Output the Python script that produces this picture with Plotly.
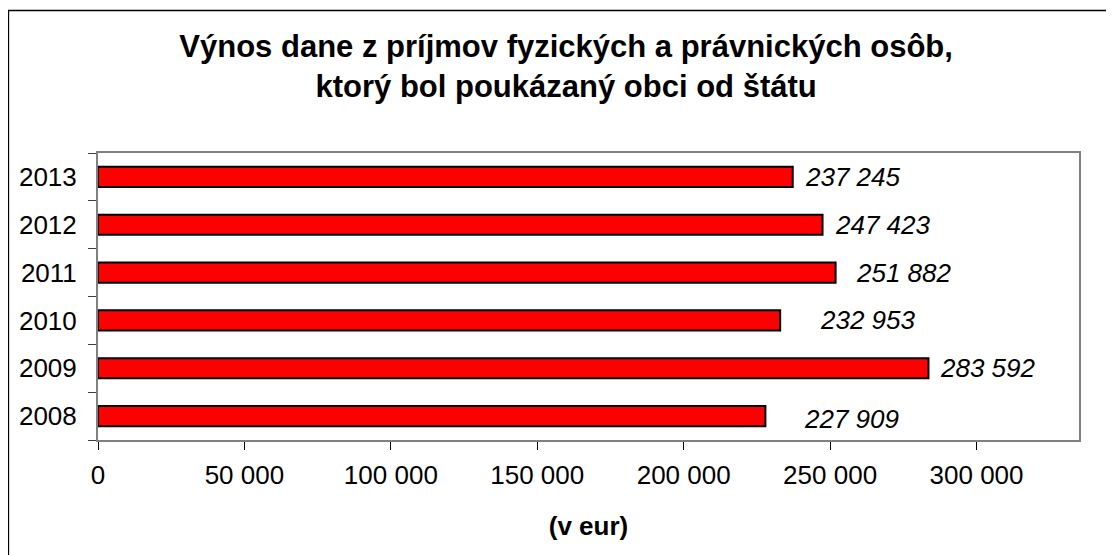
import plotly.graph_objects as go

years = ["2008", "2009", "2010", "2011", "2012", "2013"]
values = [227909, 283592, 232953, 251882, 247423, 237245]
label_xshift = [37, 10, 38, 18, 10, 10]
label_yshift = [-3, 0, 0, 0, 0, 0]
x_ticks = [0, 50000, 100000, 150000, 200000, 250000, 300000]

title_text = "Výnos dane z príjmov fyzických a právnických osôb,<br>ktorý bol poukázaný obci od štátu"
x_title = "(v eur)"

FONT = "Liberation Sans, Arial, sans-serif"

OFF = 8  # page body margin
W, H = 1114, 555
L, R, T, B = 98 - OFF, 1079 - OFF, 153 - OFF, 440 - OFF

fig = go.Figure()
fig.add_trace(go.Bar(
    x=values, y=years, orientation="h",
    marker=dict(color="#FF0000", line=dict(color="black", width=2)),
    hoverinfo="x+y",
))

for i, (v, dx, dy) in enumerate(zip(values, label_xshift, label_yshift)):
    fig.add_annotation(
        x=v, y=i, xref="x", yref="y",
        text="<i>" + f"{v:,}".replace(",", " ") + "</i>",
        showarrow=False, xanchor="left", yanchor="middle",
        xshift=dx, yshift=dy,
        font=dict(family=FONT, size=26, color="black"),
    )

def px_x(p):
    return (p - L) / (R - L)

def px_y(p):
    return (B - p) / (B - T)

fig.add_shape(
    type="rect", xref="paper", yref="paper",
    x0=px_x(0.5), x1=px_x(1200), y0=px_y(620), y1=px_y(2.5),
    line=dict(color="black", width=1.3), fillcolor="rgba(0,0,0,0)",
)

fig.update_layout(
    width=W, height=H,
    margin=dict(l=L, r=W - R, t=T, b=H - B, pad=0, autoexpand=False),
    paper_bgcolor="white", plot_bgcolor="white",
    separators=", ",
    bargap=0.58,
    showlegend=False,
    font=dict(family=FONT, color="black"),
    title=dict(
        text=title_text, xref="container", yref="container",
        x=0.501, xanchor="center", y=1 - 49 / H, yanchor="top",
        font=dict(family=FONT, size=31, color="black", weight="bold"),
    ),
    xaxis=dict(
        range=[0, 335000], tickvals=x_ticks, tickformat=",d",
        ticks="outside", ticklen=8, tickcolor="black", tickwidth=1,
        showline=True, linecolor="#808080", linewidth=2, mirror=True,
        showgrid=False, zeroline=False,
        ticklabelstandoff=3,
        tickfont=dict(family=FONT, size=26, color="black"),
        title=dict(text="<b>" + x_title + "</b>", standoff=28,
                   font=dict(family=FONT, size=26, color="black")),
    ),
    yaxis=dict(
        type="category", categoryorder="array", categoryarray=years,
        range=[-0.5, 5.5], autorange=False,
        tickson="boundaries",
        ticks="outside", ticklen=8, tickcolor="#404040", tickwidth=1,
        showline=True, linecolor="#808080", linewidth=2, mirror=True,
        showgrid=False, zeroline=False,
        ticklabelstandoff=14,
        tickfont=dict(family=FONT, size=26, color="black"),
    ),
)

fig.write_html("out.html")
